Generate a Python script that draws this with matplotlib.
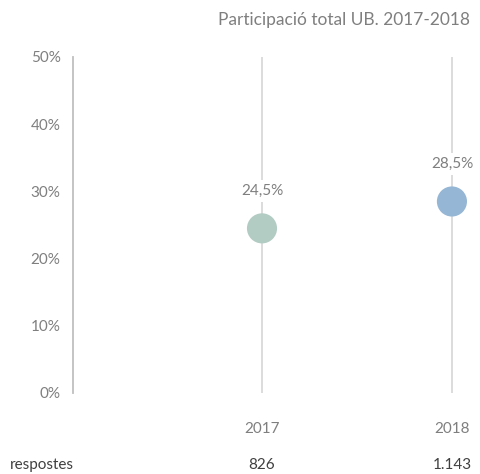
import matplotlib.pyplot as plt
import matplotlib.transforms as mtransforms

# data
years = ["2017", "2018"]
participacio = [24.5, 28.5]
respostes = ["826", "1.143"]
colors = ["#b2cbc3", "#95b6d4"]
yticks = [0, 10, 20, 30, 40, 50]

plt.rcParams["font.family"] = ["Lato", "DejaVu Sans"]
grey = "#7f7f7f"

fig = plt.figure(figsize=(4.81, 4.74), dpi=100)
ax = fig.add_axes([73 / 481, 81 / 474, 408 / 481, 336 / 474])

xpos = list(range(len(years)))
# vertical guide lines
for x in xpos:
    ax.axvline(x, color="#d9d9d9", lw=1.3, zorder=1)

ax.scatter(xpos, participacio, s=470, c=colors, zorder=3, linewidths=0)

for x, v in zip(xpos, participacio):
    ax.annotate(f"{v:.1f}%".replace(".", ","), (x, v), xytext=(0, 27),
                textcoords="offset points", ha="center", va="center",
                fontsize=11, color=grey, zorder=4,
                bbox=dict(boxstyle="square,pad=0.25", fc="white", ec="none"))

ax.set_xlim(-0.995, 1.153)
ax.set_ylim(0, 50)
ax.set_yticks(yticks)
ax.set_yticklabels([f"{t}%" for t in yticks])
ax.set_xticks(xpos)
ax.set_xticklabels(years)
ax.tick_params(axis="both", length=0, colors=grey, labelsize=11)
ax.tick_params(axis="y", pad=9)
ax.tick_params(axis="x", pad=21)

for s in ["top", "right", "bottom"]:
    ax.spines[s].set_visible(False)
ax.spines["left"].set_color("#bfbfbf")
ax.spines["left"].set_linewidth(1.3)

# responses row
trans = mtransforms.blended_transform_factory(ax.transData, fig.transFigure)
for x, r in zip(xpos, respostes):
    ax.text(x, 9 / 474, r, transform=trans, ha="center", va="center",
            fontsize=11, color="#404040")
fig.text(10 / 481, 9 / 474, "respostes", ha="left", va="center",
         fontsize=11, color="#404040")

fig.text(470 / 481, 454 / 474, "Participació total UB. 2017-2018",
         ha="right", va="center", fontsize=12.5, color=grey)

fig.savefig("out.png", dpi=100)
